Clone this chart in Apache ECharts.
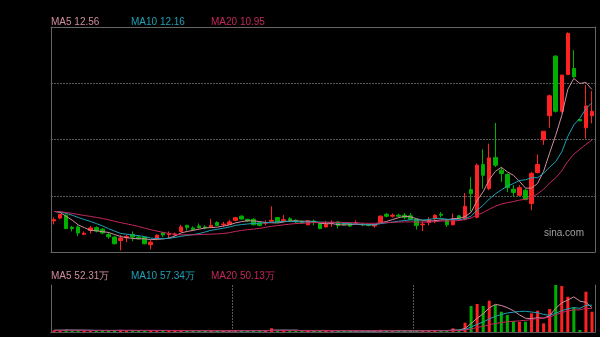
<!DOCTYPE html>
<html><head><meta charset="utf-8">
<script src="https://cdn.jsdelivr.net/npm/echarts@6/dist/echarts.min.js"></script>
<style>html,body{margin:0;padding:0;background:#000;overflow:hidden}#c{width:600px;height:337px}</style>
</head><body><div id="c"></div>
<script>
// ---- data ----
const open = [8.38,8.47,8.56,8.18,8.19,7.96,8.08,8.17,8.12,7.95,
7.87,7.76,7.85,7.95,7.87,7.87,7.63,7.82,8.01,7.95,
7.94,8.05,8.24,8.16,8.22,8.19,8.19,8.33,8.26,8.27,
8.40,8.53,8.43,8.43,8.32,8.31,8.37,8.49,8.38,8.45,
8.40,8.37,8.26,8.38,8.30,8.19,8.31,8.35,8.30,8.30,
8.31,8.27,8.27,8.22,8.34,8.59,8.53,8.56,8.56,8.54,
8.43,8.26,8.33,8.45,8.59,8.40,8.26,8.54,8.45,9.37,
8.50,10.16,9.40,10.38,9.98,9.85,9.38,9.19,9.35,8.93,
9.91,10.94,11.70,13.58,11.84,13.00,13.19,11.58,11.32,11.70];
const close = [8.42,8.58,8.14,8.14,8.00,7.99,8.16,8.06,8.00,7.88,
7.66,7.84,7.89,7.87,7.82,7.66,7.71,7.93,7.94,7.97,
7.97,8.19,8.17,8.11,8.17,8.16,8.24,8.24,8.28,8.35,
8.48,8.44,8.38,8.26,8.24,8.33,8.40,8.35,8.42,8.40,
8.35,8.33,8.38,8.34,8.14,8.27,8.34,8.24,8.26,8.22,
8.32,8.26,8.24,8.26,8.53,8.53,8.56,8.53,8.49,8.43,
8.24,8.28,8.42,8.56,8.56,8.26,8.45,8.47,8.84,9.24,
10.14,9.82,10.37,10.14,9.88,9.43,9.28,9.43,9.06,9.88,
10.16,11.21,12.33,11.84,12.98,14.30,12.93,11.54,12.01,11.84];
const low = [8.27,8.43,8.12,8.05,7.90,7.93,7.98,8.02,7.96,7.82,
7.64,7.45,7.71,7.74,7.80,7.64,7.48,7.77,7.87,7.84,
7.91,8.03,8.08,8.08,8.14,8.12,8.18,8.22,8.19,8.26,
8.37,8.42,8.35,8.24,8.21,8.24,8.35,8.33,8.35,8.35,
8.32,8.29,8.24,8.24,8.12,8.17,8.19,8.14,8.24,8.19,
8.27,8.21,8.21,8.17,8.32,8.49,8.49,8.50,8.43,8.40,
8.11,8.06,8.24,8.31,8.49,8.19,8.24,8.45,8.40,8.68,
8.46,9.40,9.35,10.08,9.61,9.29,9.14,9.17,9.03,8.72,
9.88,10.78,11.32,11.80,11.80,12.98,12.90,11.53,10.98,11.46];
const high = [8.49,8.61,8.59,8.22,8.24,8.05,8.22,8.21,8.15,8.03,
7.91,7.93,7.95,8.05,7.93,7.89,7.77,7.96,8.03,8.05,
8.01,8.26,8.26,8.21,8.30,8.24,8.45,8.37,8.35,8.42,
8.51,8.56,8.45,8.47,8.35,8.40,8.84,8.50,8.57,8.50,
8.43,8.40,8.40,8.42,8.32,8.38,8.40,8.37,8.31,8.31,
8.40,8.31,8.29,8.27,8.56,8.63,8.61,8.61,8.63,8.63,
8.45,8.37,8.50,8.59,8.66,8.45,8.61,8.56,9.26,9.77,
10.19,10.64,10.82,11.47,10.08,9.88,9.51,9.51,9.40,9.93,
10.48,11.21,12.37,13.61,13.00,14.33,13.77,11.59,12.67,12.48];
// volume in 万 (10k) shares
const volume = [3.5,4.2,5.1,3.0,3.8,2.6,3.2,2.8,2.5,2.9,
4.0,4.5,2.7,3.0,2.2,3.6,4.1,3.3,2.6,2.4,
2.2,3.8,2.9,2.3,2.6,2.1,3.4,2.8,2.2,2.5,
3.6,3.1,2.4,3.3,2.7,2.2,8.0,3.9,3.1,2.6,
2.3,2.0,3.0,2.4,3.5,2.7,2.2,2.9,2.0,2.4,
1.9,1.8,2.0,2.3,4.6,3.2,2.4,2.1,2.6,2.8,
3.9,3.1,2.9,3.5,2.7,3.4,7.9,4.0,19.9,55.6,
59.9,55.6,67.0,57.8,43.4,36.4,23.5,22.0,22.0,40.0,
45.6,18.6,49.2,100.6,98.4,75.5,52.0,4.3,86.2,43.4];
// sessions before the visible window (estimated from where the MA lines start)
const priorCloses = [8.70,8.66,8.68,8.72,8.64,8.69,8.71,8.66,8.68,8.64,8.70,8.66,8.68,8.72,8.64,8.74,8.76,8.73,8.75];
const priorVolumes = [3.8,3.2,4.1,3.6,3.0,3.9,3.4,3.7,3.1,3.5,3.8,3.3,3.6,4.0,3.2,3.5,3.9,3.4,3.6];
const legendPrice = ['MA5 12.56','MA10 12.16','MA20 10.95'];
const legendVolume = ['MA5 52.31万','MA10 57.34万','MA20 50.13万'];
const categories = open.map((_, i) => 'D' + (i + 1));

// ---- derived ----
function ma(prior, vals, n) {
  const all = prior.concat(vals), P = prior.length;
  return vals.map((_, i) => {
    let s = 0;
    for (let k = 0; k < n; k++) s += all[i + P - k];
    return +(s / n).toFixed(3);
  });
}
const kData = open.map((o, i) => [o, close[i], low[i], high[i]]);
const UP = '#ff2222', DOWN = '#00b000';
const C5 = '#d28c9f', C10 = '#1ea0b6', C20 = '#c3285c';
const GRID = '#5a5a5a', FRAME = '#666666';
const volData = volume.map((v, i) => ({value: v, itemStyle: {color: close[i] >= open[i] ? UP : DOWN}}));

const chart = echarts.init(document.getElementById('c'), null, {renderer: 'canvas'});
const hidden = {axisLabel: {show: false}, axisTick: {show: false}};
const frameLine = {show: true, lineStyle: {color: FRAME, width: 1}};
const FONT = '10px "Liberation Sans", Arial';
chart.setOption({
  backgroundColor: '#000',
  animation: false,
  grid: [
    {left: 51, top: 27, width: 544, height: 225},
    {left: 51, top: 285, width: 544, height: 47}
  ],
  xAxis: [
    Object.assign({type: 'category', gridIndex: 0, data: categories, boundaryGap: true, axisLine: frameLine, splitLine: {show: false}}, hidden),
    Object.assign({type: 'category', gridIndex: 0, data: categories, position: 'top', axisLine: frameLine, splitLine: {show: false}}, hidden),
    Object.assign({type: 'category', gridIndex: 1, data: categories, boundaryGap: true, axisLine: frameLine,
      splitLine: {show: true, interval: 29, lineStyle: {color: GRID, type: [2, 1]}}}, hidden),
    Object.assign({type: 'category', gridIndex: 1, data: categories, position: 'top',
      axisLine: {show: true, lineStyle: {color: GRID, type: [2, 1]}}, splitLine: {show: false}}, hidden)
  ],
  yAxis: [
    Object.assign({type: 'value', gridIndex: 0, min: 7.40, max: 14.50, axisLine: frameLine, splitLine: {show: false}}, hidden),
    Object.assign({type: 'value', gridIndex: 0, position: 'right', min: 0, max: 4, interval: 1, axisLine: frameLine,
      splitLine: {show: true, lineStyle: {color: GRID, type: [2, 1]}}}, hidden),
    Object.assign({type: 'value', gridIndex: 1, min: 0, max: 100.6, axisLine: frameLine, splitLine: {show: false}}, hidden),
    Object.assign({type: 'value', gridIndex: 1, position: 'right', min: 0, max: 1, axisLine: frameLine, splitLine: {show: false}}, hidden)
  ],
  series: [
    {type: 'candlestick', xAxisIndex: 0, yAxisIndex: 0, data: kData, barWidth: 4,
      itemStyle: {color: UP, color0: DOWN, borderColor: UP, borderColor0: DOWN, borderColorDoji: UP, borderWidth: 1}},
    {type: 'line', xAxisIndex: 0, yAxisIndex: 0, data: ma(priorCloses, close, 5), showSymbol: false, lineStyle: {color: C5, width: 1}},
    {type: 'line', xAxisIndex: 0, yAxisIndex: 0, data: ma(priorCloses, close, 10), showSymbol: false, lineStyle: {color: C10, width: 1}},
    {type: 'line', xAxisIndex: 0, yAxisIndex: 0, data: ma(priorCloses, close, 20), showSymbol: false, lineStyle: {color: C20, width: 1}},
    {type: 'bar', xAxisIndex: 2, yAxisIndex: 2, data: volData, barWidth: 3},
    {type: 'line', xAxisIndex: 2, yAxisIndex: 2, data: ma(priorVolumes, volume, 5), showSymbol: false, lineStyle: {color: C5, width: 1}},
    {type: 'line', xAxisIndex: 2, yAxisIndex: 2, data: ma(priorVolumes, volume, 10), showSymbol: false, lineStyle: {color: C10, width: 1}},
    {type: 'line', xAxisIndex: 2, yAxisIndex: 2, data: ma(priorVolumes, volume, 20), showSymbol: false, lineStyle: {color: C20, width: 1}}
  ],
  graphic: [
    {type: 'text', x: 51, y: 22.5, style: {text: legendPrice[0], fill: C5, font: FONT, verticalAlign: 'middle'}},
    {type: 'text', x: 131, y: 22.5, style: {text: legendPrice[1], fill: C10, font: FONT, verticalAlign: 'middle'}},
    {type: 'text', x: 211, y: 22.5, style: {text: legendPrice[2], fill: C20, font: FONT, verticalAlign: 'middle'}},
    {type: 'text', x: 51, y: 276, style: {text: legendVolume[0], fill: C5, font: FONT, verticalAlign: 'middle'}},
    {type: 'text', x: 131, y: 276, style: {text: legendVolume[1], fill: C10, font: FONT, verticalAlign: 'middle'}},
    {type: 'text', x: 211, y: 276, style: {text: legendVolume[2], fill: C20, font: FONT, verticalAlign: 'middle'}},
    {type: 'text', x: 584, y: 233, style: {text: 'sina.com', fill: '#a0a0a0', font: FONT, align: 'right', verticalAlign: 'middle'}}
  ]
});
</script></body></html>
